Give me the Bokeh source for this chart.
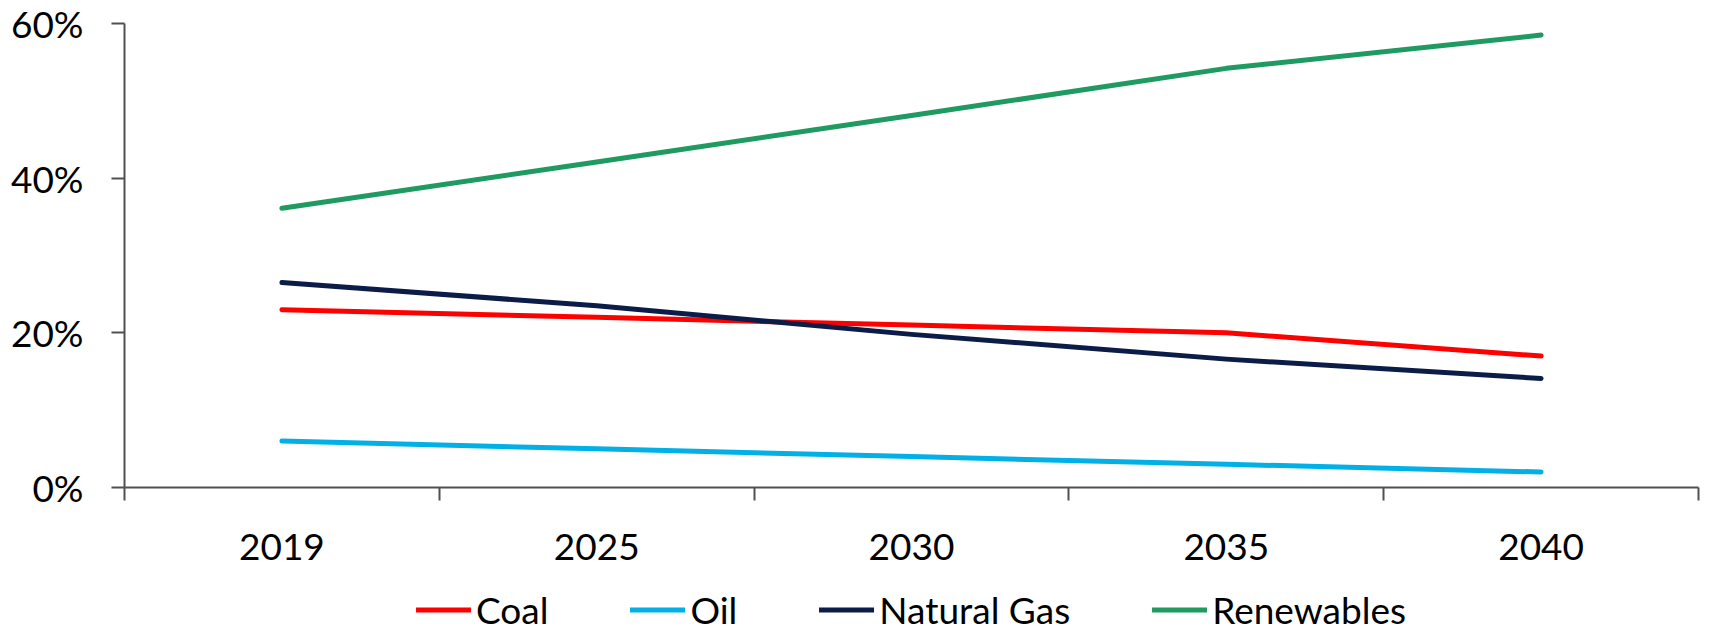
from bokeh.plotting import figure
from bokeh.layouts import column
from bokeh.models import (Legend, LegendItem, LinearAxis, Range1d,
                          FixedTicker, PrintfTickFormatter)
from bokeh.embed import file_html
from bokeh.resources import INLINE

years = ["2019", "2025", "2030", "2035", "2040"]
coal = [23.0, 22.0, 21.0, 20.0, 17.0]
oil = [6.0, 5.0, 4.0, 3.0, 2.0]
natural_gas = [26.5, 23.5, 19.8, 16.6, 14.1]
renewables = [36.1, 42.1, 48.1, 54.2, 58.5]
y_ticks = [0, 20, 40, 60]

series = [
    ("Coal", coal, "#FF0000"),
    ("Oil", oil, "#00B0E6"),
    ("Natural Gas", natural_gas, "#0B1C48"),
    ("Renewables", renewables, "#1F9A60"),
]

FONT = "Lato"
FS = "37px"
AX = "#505050"

n = len(years)
centers = [i + 0.5 for i in range(n)]      # category slots on the x scale
bounds = [i for i in range(n + 1)]          # slot boundaries (tick marks)

p = figure(width=1710, height=580, x_range=Range1d(0, n), y_range=Range1d(0, 60),
           output_backend="svg", toolbar_location=None,
           x_axis_location=None, y_axis_location=None,
           min_border_left=124, min_border_right=12, min_border_top=23,
           min_border_bottom=93)
p.outline_line_color = None
p.xgrid.visible = False
p.ygrid.visible = False

# y axis
yax = LinearAxis(ticker=FixedTicker(ticks=y_ticks),
                 formatter=PrintfTickFormatter(format="%d%%"))
yax.major_tick_out = 13
yax.major_tick_in = 0
yax.minor_tick_out = 0
yax.minor_tick_in = 0
yax.axis_line_color = AX
yax.axis_line_width = 2
yax.major_tick_line_color = AX
yax.major_tick_line_width = 2
yax.major_label_standoff = 28
yax.major_label_text_font = FONT
yax.major_label_text_font_size = FS
yax.major_label_text_color = "black"
p.add_layout(yax, "left")

# x axis: labels at slot centres, tick marks at slot boundaries
xax = LinearAxis(ticker=FixedTicker(ticks=centers, minor_ticks=bounds),
                 major_label_overrides={c: y for c, y in zip(centers, years)})
xax.axis_line_color = AX
xax.axis_line_width = 2
xax.major_tick_line_color = None
xax.major_tick_out = 0
xax.major_tick_in = 0
xax.minor_tick_line_color = AX
xax.minor_tick_line_width = 2
xax.minor_tick_out = 13
xax.minor_tick_in = 0
xax.major_label_standoff = 33
xax.major_label_text_font = FONT
xax.major_label_text_font_size = FS
xax.major_label_text_color = "black"
p.add_layout(xax, "below")

for name, vals, col in series:
    p.line(x=centers, y=vals, line_color=col, line_width=5, line_cap="round",
           line_join="round")

# legend strip below the chart (same series, drawn out of view; legend only)
lf = figure(width=1710, height=50, x_range=Range1d(0, n), y_range=Range1d(1000, 1001),
            output_backend="svg", toolbar_location=None,
            x_axis_location=None, y_axis_location=None,
            min_border_left=94, min_border_right=0, min_border_top=8,
            min_border_bottom=0)
lf.outline_line_color = None
lf.xgrid.visible = False
lf.ygrid.visible = False

items = []
for name, vals, col in series:
    r = lf.line(x=centers, y=vals, line_color=col, line_width=5, line_cap="round",
                line_join="round")
    items.append(LegendItem(label=name, renderers=[r]))

legend = Legend(items=items, orientation="horizontal", location="center",
                glyph_width=55, glyph_height=20, label_standoff=5, spacing=82,
                padding=0, margin=0, border_line_color=None,
                background_fill_alpha=0, label_text_font=FONT,
                label_text_font_size=FS, label_text_color="black")
lf.add_layout(legend)

layout = column(p, lf, spacing=0)

open("out.html", "w").write(file_html(layout, INLINE))
